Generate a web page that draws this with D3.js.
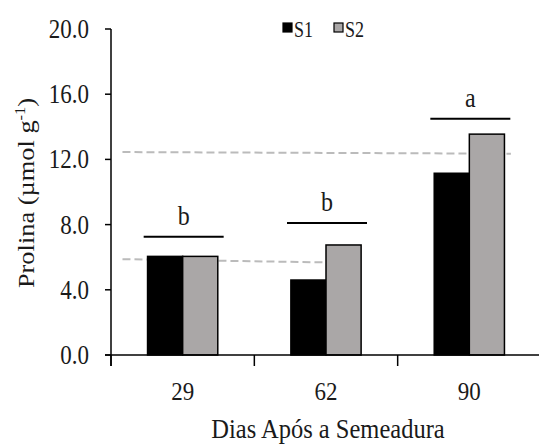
<!DOCTYPE html>
<html>
<head>
<meta charset="utf-8">
<script src="https://cdn.jsdelivr.net/npm/d3@7"></script>
<style>
  body { margin: 0; background: #fff; }
  text { font-family: "Liberation Serif", "Times New Roman", serif; fill: #1a1a1a; }
</style>
</head>
<body>
<svg id="chart" width="539" height="446"></svg>
<script>
// dias apos a semeadura
var categories = ["29", "62", "90"];
var seriesNames = ["S1", "S2"];
var s1 = [6.05, 4.6, 11.15];
var s2 = [6.05, 6.75, 13.55];
var letters = ["b", "b", "a"];
var letterLevel = [7.25, 8.1, 14.5];
var yTicks = [0, 4, 8, 12, 16, 20];
// dashed reference lines: [start index, start value, end index, end value]
var refLines = [
    [0.08, 12.45, 2.79, 12.35],
    [0.08, 5.88, 1.72, 5.65]
];

(function() {
var svg = d3.select("#chart");
var left = 111, right = 541, plotTop = 29, bottom = 355;

var y = d3.scaleLinear().domain([0, 20]).range([bottom, plotTop]);
var x0 = d3.scaleBand().domain(categories).range([left, right])
    .paddingInner(0.51).paddingOuter(0.255);
var x1 = d3.scaleBand().domain(seriesNames).range([0, x0.bandwidth()]);
var xi = d3.scaleLinear().domain([0, categories.length]).range([left, right]);
var fills = { "S1": "#000000", "S2": "#aaa7a7" };

// reference dashed lines
svg.selectAll("line.ref").data(refLines).enter().append("line")
    .attr("class", "ref")
    .attr("x1", function(d) { return xi(d[0]); })
    .attr("y1", function(d) { return y(d[1]); })
    .attr("x2", function(d) { return xi(d[2]); })
    .attr("y2", function(d) { return y(d[3]); })
    .attr("stroke", "#bbbbbb")
    .attr("stroke-width", 2)
    .attr("stroke-dasharray", "8,4");

// bars
var groups = svg.selectAll("g.cat").data(categories).enter().append("g")
    .attr("class", "cat")
    .attr("transform", function(d) { return "translate(" + x0(d) + ",0)"; });

groups.selectAll("rect").data(function(d, i) {
        return [{ k: "S1", v: s1[i] }, { k: "S2", v: s2[i] }];
    }).enter().append("rect")
    .attr("x", function(d) { return x1(d.k); })
    .attr("y", function(d) { return y(d.v); })
    .attr("width", x1.bandwidth())
    .attr("height", function(d) { return bottom - y(d.v); })
    .attr("fill", function(d) { return fills[d.k]; })
    .attr("stroke", "#000")
    .attr("stroke-width", 1.5);

// significance lines and letters
categories.forEach(function(c, i) {
    var cx = x0(c) + x0.bandwidth() / 2 + 1;
    svg.append("line")
        .attr("x1", cx - 40).attr("x2", cx + 40)
        .attr("y1", y(letterLevel[i])).attr("y2", y(letterLevel[i]))
        .attr("stroke", "#000").attr("stroke-width", 2);
    svg.append("text")
        .attr("text-anchor", "middle")
        .attr("transform", "translate(" + cx + "," + (y(letterLevel[i]) - 12) + ") scale(1,1.1)")
        .style("font-size", "24px")
        .text(letters[i]);
});

// y axis
svg.append("line")
    .attr("x1", left).attr("x2", left)
    .attr("y1", y(20)).attr("y2", bottom + 11)
    .attr("stroke", "#000").attr("stroke-width", 1.5);
svg.selectAll("line.ytick").data(yTicks).enter().append("line")
    .attr("class", "ytick")
    .attr("x1", left - 6).attr("x2", left)
    .attr("y1", function(d) { return y(d); })
    .attr("y2", function(d) { return y(d); })
    .attr("stroke", "#000").attr("stroke-width", 1.5);
svg.selectAll("text.ylab").data(yTicks).enter().append("text")
    .attr("class", "ylab")
    .attr("text-anchor", "end")
    .attr("transform", function(d) {
        return "translate(" + (left - 22) + "," + (y(d) + 9) + ") scale(1,1.15)";
    })
    .style("font-size", "23px")
    .text(d3.format(".1f"));

// x axis
svg.append("line")
    .attr("x1", left - 6).attr("x2", right)
    .attr("y1", bottom).attr("y2", bottom)
    .attr("stroke", "#000").attr("stroke-width", 1.5);
var boundaries = d3.range(categories.length).map(function(i) { return xi(i); });
svg.selectAll("line.xtick").data(boundaries).enter().append("line")
    .attr("class", "xtick")
    .attr("x1", function(d) { return d; }).attr("x2", function(d) { return d; })
    .attr("y1", bottom).attr("y2", bottom + 11)
    .attr("stroke", "#000").attr("stroke-width", 1.5);
svg.selectAll("text.xlab").data(categories).enter().append("text")
    .attr("class", "xlab")
    .attr("text-anchor", "middle")
    .attr("transform", function(d) {
        return "translate(" + (x0(d) + x0.bandwidth() / 2) + "," + (bottom + 45) + ") scale(1,1.1)";
    })
    .style("font-size", "23px")
    .text(function(d) { return d; });

// axis titles
svg.append("text")
    .attr("text-anchor", "middle")
    .attr("transform", "translate(328,438) scale(1,1.1)")
    .style("font-size", "24.5px")
    .text("Dias Após a Semeadura");

var yt = svg.append("text")
    .attr("transform", "translate(34,193) rotate(-90) scale(1.1,1)")
    .attr("text-anchor", "middle")
    .style("font-size", "24px");
yt.append("tspan").text("Prolina (µmol  g");
yt.append("tspan").attr("dy", -9).style("font-size", "15px").text("-1");
yt.append("tspan").attr("dy", 9).text(")");

// legend
var legend = svg.selectAll("g.leg").data(seriesNames).enter().append("g")
    .attr("class", "leg")
    .attr("transform", function(d, i) { return "translate(" + (283 + i * 51) + ",23)"; });
legend.append("rect")
    .attr("width", 9).attr("height", 9)
    .attr("fill", function(d) { return fills[d]; })
    .attr("stroke", "#000").attr("stroke-width", 1.2);
legend.append("text")
    .attr("transform", "translate(11,14) scale(0.9,1.2)")
    .style("font-size", "20px")
    .text(function(d) { return d; });
})();
</script>
</body>
</html>
